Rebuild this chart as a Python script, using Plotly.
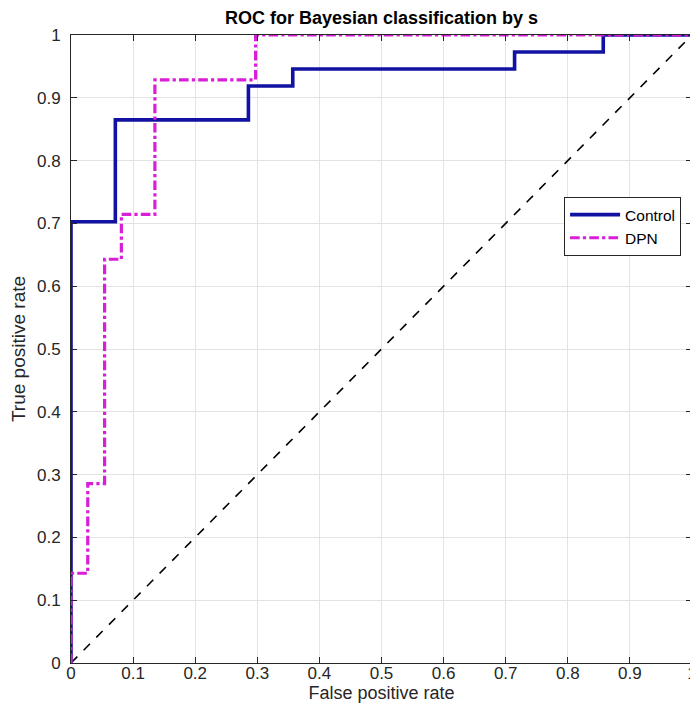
import plotly.graph_objects as go

# Data (step vertices, drawn with horizontal-then-vertical steps)
control_fpr = [0.0, 0.0, 0.0714, 0.2857, 0.3571, 0.7143, 0.8571, 1.0]
control_tpr = [0.0, 0.7027, 0.8649, 0.9189, 0.9459, 0.9730, 1.0, 1.0]
dpn_fpr = [0.0, 0.0, 0.0270, 0.0541, 0.0811, 0.1351, 0.2973, 1.0]
dpn_tpr = [0.0, 0.1429, 0.2857, 0.6429, 0.7143, 0.9286, 1.0, 1.0]
diag_x = [0.0, 1.0]
diag_y = [0.0, 1.0]

tick_vals = [0, 0.1, 0.2, 0.3, 0.4, 0.5, 0.6, 0.7, 0.8, 0.9, 1]
tick_text = ["0", "0.1", "0.2", "0.3", "0.4", "0.5", "0.6", "0.7", "0.8", "0.9", "1"]

FONT = "Arial, 'Liberation Sans', Helvetica, sans-serif"

# The page body has an 8px default margin, so the figure is sized to the
# visible 690x696 area.
W, H = 690, 696
L, R, T, B = 63, 6, 27, 41

fig = go.Figure()
fig.add_trace(go.Scatter(
    x=diag_x, y=diag_y, mode="lines", showlegend=False,
    line=dict(color="black", width=1.6, dash="dash"), hoverinfo="skip"))
fig.add_trace(go.Scatter(
    x=control_fpr, y=control_tpr, mode="lines", name="Control",
    line=dict(color="#1212a2", width=3.6, shape="hv")))
fig.add_trace(go.Scatter(
    x=dpn_fpr, y=dpn_tpr, mode="lines", name="DPN",
    line=dict(color="#d81ed8", width=3.2, shape="hv", dash="dashdot")))

axis_common = dict(
    range=[0, 1], tickvals=tick_vals, ticktext=tick_text,
    showgrid=True, gridcolor="#e3e3e3", gridwidth=1,
    showline=True, linecolor="#262626", linewidth=1, mirror="ticks",
    ticks="inside", ticklen=6, tickcolor="#262626",
    tickfont=dict(family=FONT, size=17, color="#262626"),
    zeroline=False, fixedrange=True, automargin=False,
    ticklabeloverflow="allow",
)

fig.update_layout(
    width=W, height=H,
    paper_bgcolor="white", plot_bgcolor="white",
    margin=dict(l=L, r=R, t=T, b=B),
    title=dict(text="<b>ROC for Bayesian classification by s</b>",
               x=(L + (W - R)) / 2 / W, xanchor="center",
               y=1 - 10 / H, yanchor="middle",
               font=dict(family=FONT, size=18, color="black")),
    xaxis=dict(axis_common, ticklabelstandoff=-5,
               title=dict(text="False positive rate", standoff=3,
                          font=dict(family=FONT, size=18, color="#262626"))),
    yaxis=dict(axis_common, ticklabelstandoff=6,
               title=dict(text="True positive rate", standoff=8,
                          font=dict(family=FONT, size=19, color="#262626"))),
    legend=dict(x=0.794, y=0.742, xanchor="left", yanchor="top",
                bgcolor="white", bordercolor="#262626", borderwidth=1,
                font=dict(family=FONT, size=15.5, color="black"),
                tracegroupgap=0, itemwidth=50),
)

fig.write_html("out.html")
